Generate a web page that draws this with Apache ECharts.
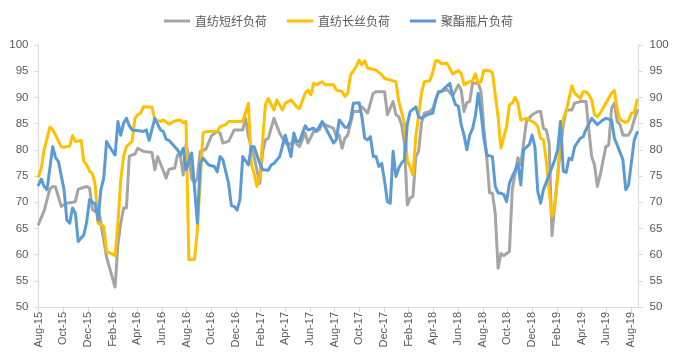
<!DOCTYPE html>
<html>
<head>
<meta charset="utf-8">
<script src="https://cdn.jsdelivr.net/npm/echarts@6/dist/echarts.min.js"></script>
<style>
html,body{margin:0;padding:0;background:#fff;}
#c{width:677px;height:359px;}
</style>
</head>
<body>
<div id="c"></div>
<script>
// Weekly data, week index counted from the first week of Aug 2015
const seriesNames = ['直纺短纤负荷', '直纺长丝负荷', '聚酯瓶片负荷'];
const tickLabels = ['Aug-15','Oct-15','Dec-15','Feb-16','Apr-16','Jun-16','Aug-16','Oct-16','Dec-16',
  'Feb-17','Apr-17','Jun-17','Aug-17','Oct-17','Dec-17','Feb-18','Apr-18','Jun-18','Aug-18',
  'Oct-18','Dec-18','Feb-19','Apr-19','Jun-19','Aug-19'];
const weeksPerTick = 8.7;   // two months in weeks
const lastWeek = 211.5;

const grayWeeks = [0,2,4,5,6,8,10,13,14,17,18,19,20,21,22,24,27,28,29,30,31,32,34,35,37,40,41,42,44,45,46,48,49,50,51,52,53,54,55,56,57,59,61,63,64,65,67,69,72,73,74,76,78,79,80,81,83,85,87,88,90,92,94,95,97,99,100,101,104,105,106,107,108,109,111,113,114,116,118,119,122,123,125,126,127,128,129,130,131,132,133,134,135,136,138,139,140,141,144,146,148,149,150,151,152,153,155,156,157,158,159,160,161,162,163,164,166,167,168,169,170,171,172,174,176,177,178,179,180,181,182,183,184,185,186,188,189,191,193,194,195,196,197,198,200,201,202,203,204,205,206,208,209,210,211];
const grayVals = [65.8,68.4,72.5,73.0,72.9,69.2,69.8,70.1,72.5,73.0,72.7,68.6,68.2,69.5,66.0,59.5,53.8,62.0,66.0,68.9,68.9,78.8,79.2,80.3,79.7,79.5,76.2,78.7,76.0,74.6,76.3,76.5,79.0,79.0,75.2,81.0,78.7,74.5,73.6,74.6,79.7,80.1,82.7,83.5,83.2,81.3,81.6,83.8,83.8,86.0,82.5,78.7,73.6,79.5,81.9,82.2,86.0,83.2,81.3,80.9,81.6,80.6,83.2,81.3,83.5,83.8,85.1,84.8,84.1,82.5,82.8,80.3,82.2,82.8,87.3,87.3,88.2,87.0,90.8,91.1,91.1,86.7,89.2,86.7,86.3,84.8,81.3,69.5,70.8,71.1,78.7,79.7,85.1,87.0,87.3,87.9,89.5,91.0,91.5,90.3,92.4,91.4,87.3,89.0,89.2,92.7,92.7,91.1,84.1,78.7,71.8,71.7,67.9,57.4,60.2,59.8,60.6,72.4,75.5,78.5,77.1,81.3,85.4,86.7,87.3,87.3,84.1,83.8,81.3,63.6,69.8,75.0,80.3,84.8,87.6,87.6,88.9,89.2,89.2,83.8,78.7,77.1,73.0,75.2,80.6,80.9,87.9,88.9,85.4,84.8,82.8,82.8,83.8,85.7,87.5];

const yellowWeeks = [0,1,2,4,5,6,8,9,11,12,13,15,16,17,18,19,20,21,23,24,27,28,29,30,31,33,34,35,36,37,40,41,43,44,46,48,50,51,52,53,55,56,58,59,63,64,66,67,71,72,74,75,76,77,78,80,81,83,84,86,87,89,91,92,94,95,96,97,98,100,101,104,105,107,108,109,110,112,113,114,115,116,119,121,122,124,126,127,129,130,132,133,135,136,138,139,140,141,142,144,146,148,149,150,152,153,154,155,156,157,159,160,162,163,165,166,167,168,169,170,172,174,175,176,177,178,179,180,181,182,183,184,185,186,188,189,191,192,193,194,195,196,197,198,200,202,203,204,205,207,208,209,210,211];
const yellowVals = [74.9,76.5,80.0,84.3,83.9,82.8,80.6,80.5,80.7,82.7,81.6,81.8,77.8,77.1,75.9,75.5,73.3,66.0,65.4,60.6,59.8,66.0,74.3,78.8,80.6,81.6,86.0,86.7,87.0,88.2,88.1,85.7,85.4,85.7,84.9,85.5,85.7,85.2,85.4,59.0,59.1,64.7,83.2,83.5,83.5,84.4,84.8,85.4,85.4,85.4,88.9,77.4,75.5,73.0,74.9,88.6,89.8,87.6,89.5,87.6,88.9,89.5,88.2,87.9,90.8,91.4,90.5,92.7,92.4,93.0,92.4,92.4,91.4,91.1,90.2,90.8,94.3,95.9,97.1,96.2,97.0,95.6,95.2,94.3,93.6,93.3,93.0,89.2,85.1,78.1,75.2,82.5,90.8,93.0,93.2,94.9,97.0,97.0,96.4,96.5,94.5,95.1,94.6,92.4,93.0,93.2,94.5,92.7,93.0,95.2,95.1,94.7,86.3,80.3,84.4,88.6,88.9,90.0,88.9,85.7,86.0,85.4,85.1,84.4,82.2,81.9,77.8,72.4,67.3,69.2,74.6,83.2,86.0,87.3,92.2,90.8,89.8,91.1,91.1,90.5,89.5,86.7,86.3,87.0,88.9,90.8,91.3,87.6,85.7,85.2,85.6,87.0,87.0,89.5];

const blueWeeks = [0,1,2,3,5,6,7,9,10,11,12,13,14,16,17,18,19,20,21,22,23,24,25,27,28,29,30,31,32,33,36,37,38,39,41,43,44,45,46,48,49,50,51,52,54,56,57,58,60,62,63,64,65,67,68,69,70,71,72,74,75,76,78,79,81,82,83,85,87,89,90,91,92,94,95,97,98,100,101,104,105,106,108,109,110,111,113,114,115,116,117,118,119,120,121,122,123,124,125,126,127,128,129,130,131,133,134,135,137,139,140,141,142,143,145,146,147,148,149,150,151,152,153,154,155,156,157,158,160,161,162,163,164,165,166,167,168,169,170,171,172,173,174,175,176,177,178,180,182,183,184,185,186,187,188,189,191,192,193,195,197,199,200,202,203,204,206,207,208,210,211];
const blueVals = [73.3,74.4,73.0,72.4,80.6,78.5,77.8,72.4,66.6,66.0,68.9,67.9,62.5,63.8,66.3,70.5,70.0,69.7,66.6,72.4,74.6,81.6,80.6,79.0,85.4,82.8,85.1,86.0,84.6,83.8,83.6,83.5,83.8,81.8,86.0,83.8,83.5,82.0,81.8,80.6,80.0,79.0,80.3,76.2,79.4,66.0,77.4,78.4,77.1,76.8,75.8,78.7,78.1,73.6,69.3,69.2,68.5,70.5,78.7,77.1,80.6,80.6,77.4,76.2,76.1,77.1,77.4,78.7,82.8,78.7,83.2,81.6,81.6,84.6,83.8,84.1,83.5,85.4,84.4,81.3,82.0,85.7,84.3,84.3,85.7,88.9,89.0,86.3,82.2,81.9,82.5,78.7,78.7,76.8,77.4,74.0,70.1,69.8,79.7,74.9,76.5,77.5,78.1,84.8,87.3,88.2,86.3,86.0,86.7,87.0,89.5,91.1,91.1,91.7,92.7,90.2,88.6,88.3,84.8,82.8,80.0,82.8,84.0,86.5,90.8,87.0,82.2,79.0,78.7,73.0,71.8,71.7,71.5,70.1,73.6,74.9,76.0,77.4,73.3,80.0,80.5,81.0,82.8,80.5,72.0,69.8,72.4,75.2,78.1,80.0,85.4,75.9,75.7,78.4,78.1,80.6,82.2,82.5,83.9,86.0,84.8,85.7,86.0,85.7,82.2,80.9,78.1,72.4,73.3,81.9,83.3];

const colors = ['#A5A5A5', '#FFC000', '#5B9BD5'];
const pair = (ws, vs) => ws.map((w, i) => [w, vs[i]]);
const seriesData = [pair(grayWeeks, grayVals), pair(yellowWeeks, yellowVals), pair(blueWeeks, blueVals)];

const tickPositions = tickLabels.map((_, i) => i * weeksPerTick);
const txt = '#595959';
const axisCol = '#D9D9D9';
const latin = '"Liberation Sans", Arial, sans-serif';

const yAxisBase = (pos, margin) => ({
  type: 'value', position: pos, min: 50, max: 100, interval: 5,
  axisLine: {show: true, lineStyle: {color: axisCol, width: 1}},
  axisTick: {show: true, length: 4, lineStyle: {color: axisCol}},
  splitLine: {show: false},
  axisLabel: {color: txt, fontSize: 11.5, fontFamily: latin, margin: margin}
});

const chart = echarts.init(document.getElementById('c'), null, {renderer: 'canvas'});
chart.setOption({
  animation: false,
  backgroundColor: '#fff',
  color: colors,
  legend: {
    top: 10, left: 'center', icon: 'rect', itemWidth: 26, itemHeight: 3, itemGap: 20,
    textStyle: {color: txt, fontSize: 12, fontFamily: '"Noto Sans CJK SC", sans-serif'},
    data: seriesNames
  },
  grid: {left: 38.5, right: 38.5, top: 45, bottom: 52, containLabel: false, outerBoundsMode: 'none'},
  xAxis: {
    type: 'value', min: 0, max: lastWeek, interval: weeksPerTick,
    axisLine: {show: true, onZero: false, lineStyle: {color: axisCol, width: 1}},
    axisTick: {show: true, length: 5, lineStyle: {color: axisCol}, customValues: tickPositions},
    splitLine: {show: false},
    axisLabel: {
      color: txt, fontSize: 11, fontFamily: latin, rotate: 90, margin: 5,
      customValues: tickPositions,
      formatter: v => {
        const k = Math.round(v / weeksPerTick);
        return Math.abs(v / weeksPerTick - k) < 0.01 ? (tickLabels[k] || '') : '';
      }
    }
  },
  yAxis: [yAxisBase('left', 10), yAxisBase('right', 11)],
  series: seriesNames.map((name, i) => ({
    name: name, type: 'line', yAxisIndex: 0, data: seriesData[i],
    showSymbol: false, symbol: 'none', smooth: false,
    lineStyle: {width: 3, color: colors[i], cap: 'round', join: 'round'},
    itemStyle: {color: colors[i]}
  }))
});
</script>
</body>
</html>
